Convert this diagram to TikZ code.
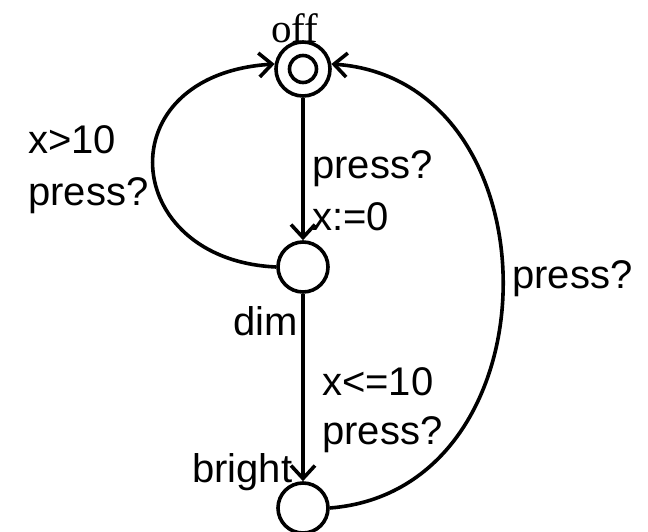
\documentclass[tikz,border=0pt]{standalone}
\usepackage{fontspec}
\setmainfont{Liberation Sans}
\newfontfamily\titleserif{Liberation Serif}
\usetikzlibrary{arrows.meta}

\tikzset{
  location/.style={circle, draw, line width=3.6pt, minimum size=50pt, inner sep=0pt},
  edge/.style={line width=3.6pt, -{Straight Barb[length=13pt,width=24pt]}},
  lbl/.style={anchor=base west, inner sep=0pt, align=left,
              font=\fontsize{40}{52}\selectfont},
}

\begin{document}
\begin{tikzpicture}[x=1pt, y=-1pt]
  \useasboundingbox (0,0) rectangle (648,532);

  % locations of the automaton
  \node[location, minimum size=54pt] (off) at (303,69) {};
  \draw[line width=3.6pt] (off.center) circle[radius=13.5pt];
  \node[location] (dim) at (303,267) {};
  \node[location] (bright) at (303,508) {};

  % location names
  \node[anchor=base, inner sep=0pt, font=\titleserif\fontsize{41}{48}\selectfont] (offname) at (295,43) {off};
  \node[lbl] (dimname) at (233,335) {dim};
  \node[lbl] (brightname) at (192,482) {bright};

  % transitions
  \draw[edge] (off.south) -- (dim.north);
  \draw[edge] (dim.west) .. controls (120,260) and (105,75) .. (off.170);
  \draw[edge] (dim.south) -- (bright.north);
  \draw[edge] (bright.east) .. controls (560,490) and (560,80) .. (off.10);

  % guards and synchronisations
  \node[lbl] (lblOffDim) at (312,230) {press?\\x:=0};
  \node[lbl] (lblDimOff) at (28,205) {x>10\\press?};
  \node[lbl, font=\fontsize{40}{49}\selectfont] (lblDimBright) at (322,444) {x<=10\\press?};
  \node[lbl] (lblBrightOff) at (512,288) {press?};
\end{tikzpicture}
\end{document}
